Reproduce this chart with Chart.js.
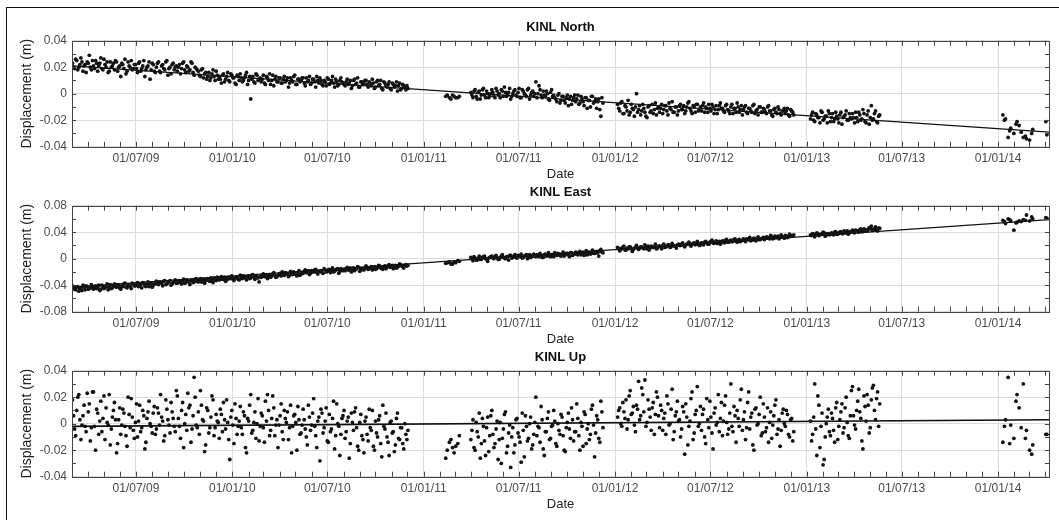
<!DOCTYPE html>
<html>
<head>
<meta charset="utf-8">
<title>KINL displacement time series</title>
<script src="https://cdn.jsdelivr.net/npm/chart.js@4.4.1/dist/chart.umd.min.js"></script>
<style>
  html, body { margin: 0; padding: 0; background: #fff; }
  body { width: 1059px; height: 520px; position: relative; overflow: hidden; }
  .frame { position: absolute; left: 6px; top: 7px; width: 1100px; height: 600px;
           border-left: 1.5px solid #111; border-top: 1.5px solid #111; }
  canvas { position: absolute; left: 6px; }
</style>
</head>
<body>
<div class="frame"></div>
<canvas id="north" width="1047" height="182" style="top:8px"></canvas>
<canvas id="east" width="1047" height="182" style="top:173px"></canvas>
<canvas id="up" width="1047" height="182" style="top:338px"></canvas>
<script>
// epochs, days since 01/01/2009 - two interleaved sets, shared by the three components
const dayNumbers = [
  60,64,68,72,76,80,84,88,92,96,
  100,104,108,112,116,120,124,128,132,136,
  140,144,148,152,156,160,164,168,172,176,
  180,184,188,192,196,200,204,208,212,216,
  220,224,228,232,236,240,244,248,252,256,
  260,264,268,272,276,280,284,288,292,296,
  300,304,308,312,316,320,324,328,332,336,
  340,344,348,352,356,360,364,368,372,376,
  380,384,388,392,396,400,404,408,412,416,
  420,424,428,432,436,440,444,448,452,456,
  460,464,468,472,476,480,484,488,492,496,
  500,504,508,512,516,520,524,528,532,536,
  540,544,548,552,556,560,564,568,572,576,
  580,584,588,592,596,600,604,608,612,616,
  620,624,628,632,636,640,644,648,652,656,
  660,664,668,672,676,680,684,688,692,696,
  700,
  772,779,785,791,798,
  820,824,828,832,836,840,844,848,852,856,
  860,864,868,872,876,880,884,888,892,896,
  900,904,908,912,916,920,924,928,932,936,
  940,944,948,952,956,960,964,968,972,976,
  980,984,988,992,996,1000,1004,1008,1012,1016,
  1020,1024,1028,1032,1036,1040,1044,1048,1052,1056,
  1060,1064,1068,1072,
  1100,1104,1108,1112,1116,1120,1124,1128,1132,1136,
  1140,1144,1148,1152,1156,1160,1164,1168,1172,1176,
  1180,1184,1188,1192,1196,1200,1204,1208,1212,1216,
  1220,1224,1228,1232,1236,1240,1244,1248,1252,1256,
  1260,1264,1268,1272,1276,1280,1284,1288,1292,1296,
  1300,1304,1308,1312,1316,1320,1324,1328,1332,1336,
  1340,1344,1348,1352,1356,1360,1364,1368,1372,1376,
  1380,1384,1388,1392,1396,1400,1404,1408,1412,1416,
  1420,1424,1428,1432,1436,
  1468,1472,1476,1480,1484,1488,1492,1496,1500,1504,
  1508,1512,1516,1520,1524,1528,1532,1536,1540,1544,
  1548,1552,1556,1560,1564,1568,1572,1576,1580,1584,
  1588,1592,1596,1600,
  1835,1840,1845,1850,1856,1862,1866,1870,1874,1880,1886,1892,1917,1919
];

const dayNumbersB = [
  62,66,70,74,78,82,86,90,94,98,
  102,106,110,114,118,122,126,130,134,138,
  142,146,150,154,158,162,166,170,174,178,
  182,186,190,194,198,202,206,210,214,218,
  222,226,230,234,238,242,246,250,254,258,
  262,266,270,274,278,282,286,290,294,298,
  302,306,310,314,318,322,326,330,334,338,
  342,346,350,354,358,362,366,370,374,378,
  382,386,390,394,398,402,406,410,414,418,
  422,426,430,434,438,442,446,450,454,458,
  462,466,470,474,478,482,486,490,494,498,
  502,506,510,514,518,522,526,530,534,538,
  542,546,550,554,558,562,566,570,574,578,
  582,586,590,594,598,602,606,610,614,618,
  622,626,630,634,638,642,646,650,654,658,
  662,666,670,674,678,682,686,690,694,698,
  775,782,788,795,
  822,826,830,834,838,842,846,850,854,858,
  862,866,870,874,878,882,886,890,894,898,
  902,906,910,914,918,922,926,930,934,938,
  942,946,950,954,958,962,966,970,974,978,
  982,986,990,994,998,1002,1006,1010,1014,1018,
  1022,1026,1030,1034,1038,1042,1046,1050,1054,1058,
  1062,1066,1070,
  1102,1106,1110,1114,1118,1122,1126,1130,1134,1138,
  1142,1146,1150,1154,1158,1162,1166,1170,1174,1178,
  1182,1186,1190,1194,1198,1202,1206,1210,1214,1218,
  1222,1226,1230,1234,1238,1242,1246,1250,1254,1258,
  1262,1266,1270,1274,1278,1282,1286,1290,1294,1298,
  1302,1306,1310,1314,1318,1322,1326,1330,1334,1338,
  1342,1346,1350,1354,1358,1362,1366,1370,1374,1378,
  1382,1386,1390,1394,1398,1402,1406,1410,1414,1418,
  1422,1426,1430,1434,
  1470,1474,1478,1482,1486,1490,1494,1498,1502,1506,
  1510,1514,1518,1522,1526,1530,1534,1538,1542,1546,
  1550,1554,1558,1562,1566,1570,1574,1578,1582,1586,
  1590,1594,1598,
  1838,1848,1860,1878,1890
];

// displacements in mm
const northMm = [
  23,19,25,20,27,17,22,24,29,18,
  21,25,17,23,19,26,20,16,24,21,
  18,24,20,13,22,26,17,21,25,19,
  22,16,24,19,25,18,21,11,23,17,
  20,24,16,22,18,25,19,15,23,20,
  17,22,19,24,16,20,18,23,14,19,
  17,13,19,15,11,16,12,18,10,14,
  13,8,15,11,16,9,14,12,7,13,
  15,9,12,16,10,-4,13,8,14,11,
  9,14,7,12,15,10,6,13,9,12,
  8,13,10,5,12,9,14,7,11,10,
  12,6,9,13,8,11,5,10,12,7,
  10,6,11,8,13,5,9,7,12,8,
  6,11,8,4,10,7,12,5,9,8,
  10,5,8,11,4,9,6,10,3,8,
  5,9,3,7,6,2,8,4,6,3,
  4,
  -2,-3,-1,-3,-2,
  1,-3,3,-4,2,-1,4,-3,0,-2,
  3,-2,4,-1,-3,2,5,-2,1,-4,
  0,3,-2,4,-3,2,-1,3,-4,1,
  -2,9,0,3,-3,-1,2,-4,1,-2,
  -3,-6,0,-5,-2,-7,-1,-4,-8,-3,
  -6,-1,-7,-4,-9,-3,-5,-10,-2,-6,
  -11,-4,-17,-7,
  -8,-13,-6,-15,-10,-5,-14,-11,-17,0,
  -12,-16,-8,-14,-18,-9,-13,-15,-7,-11,
  -14,-8,-12,-9,-16,-11,-6,-14,-10,-13,
  -8,-12,-15,-10,-6,-13,-9,-14,-8,-12,
  -13,-7,-10,-14,-11,-8,-15,-9,-12,-7,
  -11,-14,-8,-13,-10,-15,-11,-7,-14,-9,
  -12,-9,-15,-11,-14,-8,-13,-16,-10,-14,
  -12,-15,-9,-13,-17,-11,-15,-12,-16,-13,
  -15,-11,-17,-13,-16,
  -19,-14,-21,-16,-18,-13,-20,-17,-22,-15,
  -18,-21,-14,-19,-16,-23,-17,-13,-20,-18,
  -15,-22,-18,-14,-20,-12,-21,-16,-23,-9,
  -19,-13,-22,-16,
  -16,-19,-33,-26,-30,-21,-24,-29,-33,-34,-35,-27,-21,-31
];

const northMmB = [
  20,26,18,22,24,21,16,23,20,25,
  19,23,21,27,18,22,24,17,20,23,
  25,17,21,23,19,15,24,20,18,22,
  19,23,17,21,13,20,24,18,22,16,
  23,17,21,19,24,14,20,22,18,21,
  20,15,23,18,21,17,24,16,20,18,
  14,18,12,16,13,10,15,13,17,11,
  11,14,9,13,10,15,12,8,14,10,
  12,10,14,7,13,11,9,15,10,12,
  11,8,13,10,7,14,11,9,12,8,
  11,9,12,8,10,13,7,11,9,12,
  8,12,10,7,11,9,13,8,10,6,
  9,12,7,10,8,11,6,10,9,7,
  9,7,10,6,11,8,5,9,7,10,
  7,9,6,8,5,10,7,4,9,6,
  7,4,8,5,9,6,3,7,5,6,
  -1,-4,-2,-3,
  -1,2,-2,1,-4,3,-1,2,-3,0,
  1,-3,2,0,3,-2,1,-1,4,-2,
  2,-1,1,-3,3,0,-2,4,-1,2,
  0,-3,6,-1,2,-2,0,-5,3,-1,
  -4,-1,-7,-2,-5,-3,-9,-2,-5,-1,
  -4,-8,-2,-6,-3,-11,-5,-2,-7,-4,
  -6,-12,-3,
  -11,-7,-15,-9,-13,-16,-8,-12,-10,-14,
  -9,-13,-11,-17,-10,-14,-8,-12,-16,-10,
  -11,-15,-9,-13,-7,-12,-14,-10,-16,-9,
  -12,-9,-13,-7,-11,-15,-10,-8,-13,-10,
  -9,-14,-11,-8,-13,-10,-12,-15,-9,-11,
  -13,-9,-12,-15,-8,-11,-14,-10,-12,-16,
  -10,-14,-11,-13,-9,-15,-12,-10,-14,-11,
  -14,-10,-13,-16,-12,-14,-10,-15,-13,-11,
  -13,-16,-12,-14,
  -16,-20,-15,-18,-22,-14,-19,-17,-13,-21,
  -15,-19,-17,-22,-14,-18,-16,-20,-15,-19,
  -18,-14,-21,-16,-19,-15,-22,-13,-18,-20,
  -15,-21,-17,
  -20,-28,-23,-32,-30
];

const eastMm = [
  -41,-46,-43,-49,-44,-40,-47,-42,-45,-39,
  -46,-41,-44,-48,-40,-45,-42,-47,-39,-44,
  -38,-43,-40,-46,-42,-37,-44,-40,-45,-39,
  -41,-36,-40,-44,-37,-42,-35,-39,-43,-38,
  -34,-39,-36,-41,-33,-38,-35,-40,-36,-32,
  -37,-33,-38,-31,-36,-34,-39,-32,-35,-30,
  -35,-30,-34,-37,-31,-33,-29,-36,-32,-28,
  -32,-27,-31,-34,-28,-30,-26,-33,-29,-31,
  -25,-30,-27,-32,-26,-29,-24,-31,-27,-35,
  -28,-23,-27,-30,-24,-26,-21,-28,-25,-22,
  -20,-25,-22,-27,-19,-24,-21,-26,-18,-23,
  -22,-17,-21,-24,-18,-20,-16,-23,-19,-21,
  -15,-20,-17,-21,-14,-19,-16,-22,-15,-18,
  -18,-13,-17,-20,-14,-16,-12,-19,-15,-17,
  -11,-16,-13,-17,-12,-15,-10,-14,-16,-11,
  -13,-9,-12,-15,-10,-13,-8,-11,-14,-9,
  -10,
  -7,-5,-8,-6,-4,
  2,-3,1,-2,4,-1,3,0,-4,2,
  4,0,5,-1,2,6,1,3,-2,5,
  2,6,1,4,7,2,5,0,6,3,
  7,3,5,8,2,6,4,9,3,6,
  9,5,7,4,10,6,8,3,9,7,
  10,6,11,8,5,12,9,7,13,8,
  11,4,14,9,
  17,12,16,19,13,15,18,11,16,20,
  14,18,16,21,15,13,19,17,22,16,
  19,15,22,18,21,17,23,19,16,22,
  20,24,18,22,25,19,23,21,26,20,
  24,21,26,22,25,28,23,27,24,22,
  27,24,29,25,28,26,30,25,29,27,
  30,26,29,32,28,31,27,33,29,31,
  29,33,31,35,30,34,32,30,36,33,
  35,32,37,34,36,
  36,38,33,39,35,37,40,34,38,36,
  39,36,41,37,40,38,42,39,37,41,
  43,39,42,40,45,41,44,42,47,49,
  44,48,42,46,
  58,53,60,57,43,55,57,56,59,66,57,60,62,61
];

const eastMmB = [
  -44,-47,-42,-45,-48,-43,-41,-46,-44,-42,
  -43,-45,-40,-46,-42,-44,-38,-43,-45,-41,
  -42,-39,-44,-41,-38,-43,-40,-42,-37,-41,
  -38,-42,-39,-36,-41,-38,-42,-37,-40,-36,
  -38,-35,-37,-34,-39,-36,-33,-38,-35,-37,
  -34,-36,-33,-37,-32,-35,-33,-36,-31,-34,
  -32,-35,-31,-33,-30,-34,-32,-29,-33,-31,
  -29,-31,-28,-32,-30,-27,-31,-29,-28,-32,
  -28,-26,-29,-27,-30,-25,-28,-26,-29,-27,
  -25,-27,-24,-26,-28,-23,-25,-27,-24,-26,
  -24,-21,-23,-25,-22,-20,-24,-22,-25,-21,
  -19,-21,-18,-22,-20,-17,-21,-19,-18,-22,
  -17,-19,-16,-18,-20,-17,-15,-19,-17,-16,
  -15,-17,-14,-16,-18,-15,-13,-17,-16,-14,
  -13,-15,-12,-14,-16,-13,-11,-14,-12,-15,
  -11,-13,-10,-12,-14,-11,-9,-12,-10,-11,
  -6,-8,-5,-3,
  0,3,-2,1,-1,2,4,-1,1,3,
  1,3,2,-1,4,2,0,3,5,1,
  4,2,5,3,1,4,6,3,2,5,
  4,6,3,5,2,7,5,4,6,3,
  6,8,5,7,4,8,6,9,5,7,
  7,9,6,10,8,6,10,8,11,9,
  9,12,10,
  15,14,17,13,16,18,15,14,17,16,
  16,18,15,17,19,16,18,17,15,19,
  18,20,17,19,21,18,20,19,21,20,
  22,20,21,23,21,22,24,22,23,21,
  23,25,24,22,26,24,25,23,26,25,
  26,28,25,27,26,29,27,28,26,28,
  28,30,29,27,30,28,31,29,30,32,
  31,32,30,33,31,32,34,32,33,31,
  34,33,35,34,
  35,37,36,38,36,37,39,36,38,37,
  38,40,37,39,41,38,40,42,39,41,
  41,43,42,44,41,45,43,44,46,43,
  45,44,46,
  56,59,54,58,63
];

const upMm = [
  18,-4,10,22,-12,6,-2,23,15,-3,
  24,-20,8,2,-6,21,12,-1,-16,5,
  16,-22,3,-8,11,-2,-17,7,19,-5,
  1,-10,14,-3,6,-14,9,0,-7,13,
  -4,8,22,2,-9,11,-1,16,4,-6,
  21,-2,10,-18,7,23,14,-4,35,-1,
  9,25,3,-21,12,-7,5,18,-3,2,
  -11,7,16,-4,1,-27,10,-15,4,-2,
  13,-8,6,-22,2,22,-5,9,0,-13,
  8,-3,17,22,-9,4,12,-1,-18,6,
  -6,10,1,-12,14,-2,7,-20,3,-7,
  11,-4,-16,5,-1,19,-9,2,-28,8,
  -3,12,-14,-6,4,-19,15,-2,-8,6,
  -11,2,-26,8,-5,12,-17,1,-9,-22,
  5,-13,-3,10,-20,-7,3,-15,14,-4,
  -10,-24,2,-6,-16,8,-12,-3,-19,-8,
  -5,
  -26,-14,-18,-17,-9,
  -12,3,-20,-6,8,-15,-2,-24,5,-9,
  10,-18,-4,-27,1,-11,7,-22,-7,-33,
  -3,-16,4,-10,-29,-5,6,-13,0,-19,
  -8,20,-2,-14,3,-24,-6,9,-11,-1,
  2,-17,-5,7,-9,-21,1,-4,12,-13,
  -6,4,-20,-2,9,-15,0,-8,14,-25,
  6,-11,17,-3,
  5,12,-2,9,18,3,25,8,-1,14,
  32,6,22,33,1,11,-5,16,7,20,
  -3,10,4,-8,15,0,26,-6,9,2,
  -10,13,-23,5,-2,19,-12,7,28,0,
  -5,11,-15,3,17,-7,8,-1,22,4,
  -9,14,1,-4,30,-6,6,10,-2,26,
  3,-12,16,-4,8,-20,12,0,20,-7,
  5,-3,-14,9,-1,14,-8,3,-5,11,
  -2,7,-10,4,-6,
  2,-8,30,-24,14,-2,-31,-10,5,-6,
  8,-5,12,-12,3,15,-3,20,-9,6,
  28,-1,10,26,4,-19,13,22,-7,18,
  29,3,24,15,
  -14,3,35,-1,-11,22,12,-3,30,-5,-20,-16,-8,-8
];

const upMmB = [
  6,-9,20,3,-1,14,-6,9,-13,24,
  -2,11,-8,17,4,-12,1,22,-4,10,
  3,-15,12,-1,8,-9,20,-3,5,-11,
  15,2,-6,10,-19,4,17,-2,8,-8,
  12,-1,5,-13,18,3,-7,9,-2,25,
  4,-11,16,0,-5,12,-14,6,20,-3,
  -8,14,2,-16,10,-3,21,-9,7,1,
  11,-6,3,18,-12,5,-1,15,-8,2,
  -3,9,-18,4,14,-7,1,-11,19,-2,
  6,-14,2,10,-5,21,-9,3,-1,15,
  -12,4,9,-3,-22,6,1,13,-8,-1,
  3,-10,14,-5,8,-2,-18,5,11,-7,
  2,-13,7,-4,17,-9,0,-24,4,10,
  -6,5,-15,1,9,-3,-20,7,-12,2,
  -8,11,-5,-17,2,-10,6,-25,-2,8,
  -14,1,-7,-21,4,-11,-3,-15,0,-12,
  -20,-12,-22,-15,
  -5,-18,1,-10,-26,4,-13,-3,-21,6,
  -8,-15,2,-12,-30,-4,9,-17,-1,-10,
  -22,3,-7,-14,8,-25,-2,-11,5,-16,
  1,-9,-3,13,-19,-6,4,-12,-2,10,
  -15,0,-8,5,-20,-3,8,-11,3,-6,
  15,-9,1,-17,7,-4,-12,11,-1,-7,
  3,-14,9,
  10,0,16,4,-4,21,7,13,-6,11,
  3,27,9,-2,18,5,12,-8,24,6,
  14,-5,8,21,-1,11,-12,6,17,3,
  -4,9,15,-16,2,24,-7,10,-2,13,
  7,-10,19,-3,5,-19,12,1,-6,16,
  2,21,-8,8,-2,13,-14,4,18,-5,
  9,-3,24,5,-16,11,-1,7,-9,15,
  -6,12,1,-11,6,18,-4,-17,8,0,
  10,-8,3,-13,
  -13,5,-4,21,-18,8,-27,0,11,-9,
  4,-14,16,-2,9,-7,12,1,-11,25,
  6,-4,17,9,-13,21,2,14,-3,27,
  10,19,-2,
  -2,-15,17,-11,-23
];

// fitted linear trend, mm, at the ends of the axis
const trendDays = [59, 1923];
const northTrend = [21, -29];
const eastTrend = [-43, 59];
const upTrend = [-2, 3];

const tickDates = ["2009-07-01", "2010-01-01", "2010-07-01", "2011-01-01", "2011-07-01",
  "2012-01-01", "2012-07-01", "2013-01-01", "2013-07-01", "2014-01-01"];
const tickLabels = ["01/07/09", "01/01/10", "01/07/10", "01/01/11", "01/07/11",
  "01/01/12", "01/07/12", "01/01/13", "01/07/13", "01/01/14"];

const FONT = '"Liberation Sans", Arial, Helvetica, sans-serif';
const EPOCH = Date.UTC(2009, 0, 1);
const X_MIN = 59;
const X_MAX = 1923;

function dayOf(str) {
  return (Date.parse(str) - EPOCH) / 86400000;
}

const tickDays = tickDates.map(dayOf);

function toPoints(days, values) {
  return days.map((d, i) => ({ x: d, y: values[i] }));
}

[[dayNumbers, northMm, eastMm, upMm], [dayNumbersB, northMmB, eastMmB, upMmB]].forEach((set) => {
  const n = set[0].length;
  if (set.some((arr) => arr.length !== n)) {
    console.error("length mismatch", set.map((arr) => arr.length));
  }
});

// box around the plot + inward monthly / minor ticks
function makeFrame(minorStep) {
  return {
    id: "frameTicks",
    afterDatasetsDraw(chart) {
      const { ctx, chartArea: a, scales: { x, y } } = chart;
      ctx.save();
      ctx.strokeStyle = "#444";
      ctx.lineWidth = 1;
      ctx.beginPath();
      for (let yr = 2009; yr <= 2014; yr++) {
        for (let m = 0; m < 12; m++) {
          const d = (Date.UTC(yr, m, 1) - EPOCH) / 86400000;
          if (d <= x.min || d >= x.max) continue;
          const px = Math.round(x.getPixelForValue(d)) + 0.5;
          ctx.moveTo(px, a.bottom);
          ctx.lineTo(px, a.bottom - 5);
          ctx.moveTo(px, a.top);
          ctx.lineTo(px, a.top + 5);
        }
      }
      for (let v = y.min + minorStep; v < y.max; v += minorStep) {
        const py = Math.round(y.getPixelForValue(v)) + 0.5;
        ctx.moveTo(a.left, py);
        ctx.lineTo(a.left + 4, py);
        ctx.moveTo(a.right, py);
        ctx.lineTo(a.right - 4, py);
      }
      ctx.stroke();
      ctx.strokeRect(Math.round(a.left) + 0.5, Math.round(a.top) + 0.5,
        Math.round(a.right - a.left), Math.round(a.bottom - a.top));
      ctx.restore();
    },
  };
}

function formatMetres(v) {
  if (v === 0) return "0";
  return (v / 1000).toFixed(2);
}

function scatterSet(points) {
  return {
    data: points,
    pointRadius: 1.9,
    backgroundColor: "#141414",
    borderWidth: 0,
    order: 1,
  };
}

function renderPanel(canvasId, title, values, valuesB, trend, range, step, minorStep, lineWidth) {
  const ctx = document.getElementById(canvasId).getContext("2d");

  return new Chart(ctx, {
    type: "scatter",
    data: {
      datasets: [
        {
          type: "line",
          data: toPoints(trendDays, trend),
          borderColor: "#111",
          borderWidth: lineWidth,
          pointRadius: 0,
          order: 0,
        },
        scatterSet(toPoints(dayNumbers, values)),
        scatterSet(toPoints(dayNumbersB, valuesB)),
      ],
    },
    options: {
      responsive: false,
      animation: false,
      devicePixelRatio: 1,
      layout: { padding: { left: 0, right: 2, top: 0, bottom: 0 } },
      plugins: {
        legend: { display: false },
        tooltip: { enabled: false },
        title: {
          display: true,
          text: title,
          fullSize: false,
          color: "#111",
          font: { family: FONT, size: 13, weight: "bold" },
          padding: { top: 11.5, bottom: 5.6 },
        },
      },
      scales: {
        x: {
          type: "linear",
          min: X_MIN,
          max: X_MAX,
          afterBuildTicks: (scale) => {
            scale.ticks = tickDays.map((v) => ({ value: v }));
          },
          afterFit: (scale) => {
            scale.height = 43.3;
          },
          grid: { color: "#dcdcdc", drawTicks: false },
          border: { display: false },
          ticks: {
            autoSkip: false,
            maxRotation: 0,
            padding: 5,
            color: "#4a4a4a",
            font: { family: FONT, size: 12 },
            callback: (value, index) => tickLabels[index],
          },
          title: {
            display: true,
            text: "Date",
            color: "#222",
            font: { family: FONT, size: 13 },
            padding: { top: 0, bottom: 8 },
          },
        },
        y: {
          min: -range,
          max: range,
          afterFit: (scale) => {
            scale.width = 66;
          },
          grid: { color: "#dcdcdc", drawTicks: false },
          border: { display: false },
          ticks: {
            stepSize: step,
            padding: 5,
            color: "#4a4a4a",
            font: { family: FONT, size: 12 },
            callback: (value) => formatMetres(value),
          },
          title: {
            display: true,
            text: "Displacement (m)",
            color: "#222",
            font: { family: FONT, size: 14 },
            padding: { top: 13, bottom: 0 },
          },
        },
      },
    },
    plugins: [makeFrame(minorStep)],
  });
}

renderPanel("north", "KINL North", northMm, northMmB, northTrend, 40, 20, 10, 1.2);
renderPanel("east", "KINL East", eastMm, eastMmB, eastTrend, 80, 40, 20, 1.2);
renderPanel("up", "KINL Up", upMm, upMmB, upTrend, 40, 20, 10, 1.6);
</script>
</body>
</html>
